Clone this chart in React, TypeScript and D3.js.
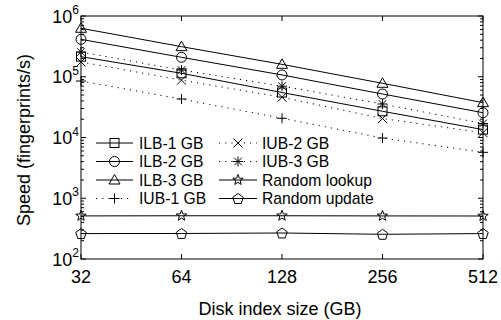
import React from "react";
import * as d3 from "d3";

const sizes = [32, 64, 128, 256, 512];
const ilb1 = [214000, 114000, 55000, 27000, 13500];
const ilb2 = [413000, 209000, 107000, 52000, 25600];
const ilb3 = [628000, 313000, 160000, 78000, 37500];
const iub1 = [85000, 43000, 20700, 9800, 5700];
const iub2 = [175000, 88000, 46000, 20500, 12000];
const iub3 = [255000, 129000, 70000, 35600, 17000];
const randomLookup = [512, 515, 515, 512, 510];
const randomUpdate = [262, 263, 268, 255, 262];
const yTickExps = [2, 3, 4, 5, 6];
const seriesLabels = [
  "ILB-1 GB", "ILB-2 GB", "ILB-3 GB", "IUB-1 GB",
  "IUB-2 GB", "IUB-3 GB", "Random lookup", "Random update",
];

type Mk = "square" | "circle" | "triangle" | "plus" | "x" | "asterisk" | "star" | "pentagon";

const series: { label: string; values: number[]; marker: Mk; dotted: boolean }[] = [
  { label: seriesLabels[0], values: ilb1, marker: "square", dotted: false },
  { label: seriesLabels[1], values: ilb2, marker: "circle", dotted: false },
  { label: seriesLabels[2], values: ilb3, marker: "triangle", dotted: false },
  { label: seriesLabels[3], values: iub1, marker: "plus", dotted: true },
  { label: seriesLabels[4], values: iub2, marker: "x", dotted: true },
  { label: seriesLabels[5], values: iub3, marker: "asterisk", dotted: true },
  { label: seriesLabels[6], values: randomLookup, marker: "star", dotted: false },
  { label: seriesLabels[7], values: randomUpdate, marker: "pentagon", dotted: false },
];

const W = 501, H = 320;
const L = 81, R = 483, T = 16, B = 259;
const FONT = "'Liberation Sans', Arial, Helvetica, sans-serif";

function marker(type: Mk, cx: number, cy: number, key?: string) {
  const common = { fill: "none", stroke: "#000", strokeWidth: 1 };
  switch (type) {
    case "square":
      return <rect key={key} x={cx - 4.5} y={cy - 4.5} width={9} height={9} {...common} />;
    case "circle":
      return <circle key={key} cx={cx} cy={cy} r={5} {...common} />;
    case "triangle":
      return <path key={key} d={`M${cx},${cy - 5.5}L${cx + 5.5},${cy + 4}L${cx - 5.5},${cy + 4}Z`} {...common} />;
    case "plus":
      return <path key={key} d={`M${cx - 5},${cy}H${cx + 5}M${cx},${cy - 5}V${cy + 5}`} {...common} />;
    case "x":
      return <path key={key} d={`M${cx - 4.5},${cy - 4.5}L${cx + 4.5},${cy + 4.5}M${cx - 4.5},${cy + 4.5}L${cx + 4.5},${cy - 4.5}`} {...common} />;
    case "asterisk":
      return <path key={key} d={`M${cx - 5},${cy}H${cx + 5}M${cx},${cy - 5}V${cy + 5}M${cx - 3.8},${cy - 3.8}L${cx + 3.8},${cy + 3.8}M${cx - 3.8},${cy + 3.8}L${cx + 3.8},${cy - 3.8}`} {...common} />;
    case "star": {
      const pts: string[] = [];
      for (let i = 0; i < 10; i++) {
        const r = i % 2 === 0 ? 5.5 : 2.3;
        const a = -Math.PI / 2 + (i * Math.PI) / 5;
        pts.push(`${cx + r * Math.cos(a)},${cy + r * Math.sin(a)}`);
      }
      return <polygon key={key} points={pts.join(" ")} {...common} />;
    }
    case "pentagon": {
      const pts: string[] = [];
      for (let i = 0; i < 5; i++) {
        const a = -Math.PI / 2 + (i * 2 * Math.PI) / 5;
        pts.push(`${cx + 5.5 * Math.cos(a)},${cy + 0.5 + 5.5 * Math.sin(a)}`);
      }
      return <polygon key={key} points={pts.join(" ")} {...common} />;
    }
  }
}

export default function App() {
  const x = d3.scaleLog().base(2).domain([32, 512]).range([L, R]);
  const y = d3.scaleLog().domain([100, 1e6]).range([B, T]);
  const line = d3
    .line<number>()
    .x((_, i) => x(sizes[i]))
    .y((d) => y(d));

  const minor: number[] = [];
  for (let e = 2; e < 6; e++) for (let m = 2; m <= 9; m++) minor.push(m * Math.pow(10, e));

  const legendRows = [143, 161.5, 180, 198.5];
  const legendCols = [
    { x1: 96, x2: 133, tx: 139 },
    { x1: 219, x2: 257, tx: 262 },
  ];

  return (
    <svg width={W} height={H} style={{ position: "absolute", left: 0, top: 0, background: "#fff" }} fontFamily={FONT}>
      <rect x={0} y={0} width={W} height={H} fill="#fff" />
      {/* minor y ticks */}
      {minor.map((v) => (
        <g key={"m" + v}>
          <line x1={L} x2={L + 3} y1={y(v)} y2={y(v)} stroke="#000" />
          <line x1={R} x2={R - 3} y1={y(v)} y2={y(v)} stroke="#000" />
        </g>
      ))}
      {/* major y ticks */}
      {yTickExps.map((e) => {
        const v = Math.pow(10, e);
        return (
          <g key={"y" + e}>
            <line x1={L} x2={L + 5} y1={y(v)} y2={y(v)} stroke="#000" />
            <line x1={R} x2={R - 5} y1={y(v)} y2={y(v)} stroke="#000" />
            <text x={79} y={y(v) + 6.5} textAnchor="end" fontSize={18}>
              10<tspan dy={-8.5} fontSize={12}>{e}</tspan>
            </text>
          </g>
        );
      })}
      {/* x ticks */}
      {sizes.map((s) => (
        <g key={"x" + s}>
          <line x1={x(s)} x2={x(s)} y1={B} y2={B - 5} stroke="#000" />
          <line x1={x(s)} x2={x(s)} y1={T} y2={T + 5} stroke="#000" />
          <text x={x(s)} y={283} textAnchor="middle" fontSize={18}>{s}</text>
        </g>
      ))}
      <rect x={L} y={T} width={R - L} height={B - T} fill="none" stroke="#000" strokeWidth={1} />
      {/* series */}
      {series.map((s, si) => (
        <g key={"s" + si}>
          <path d={line(s.values) || ""} fill="none" stroke="#000" strokeWidth={1}
            strokeDasharray={s.dotted ? "1.2,5" : undefined} />
          {s.values.map((v, i) => marker(s.marker, x(sizes[i]), y(v), `${si}-${i}`))}
        </g>
      ))}
      {/* legend */}
      {series.map((s, si) => {
        const col = legendCols[Math.floor(si / 4)];
        const ry = legendRows[si % 4];
        return (
          <g key={"l" + si}>
            <line x1={col.x1} x2={col.x2} y1={ry} y2={ry} stroke="#000" strokeWidth={1}
              strokeDasharray={s.dotted ? "1.2,5" : undefined} />
            {marker(s.marker, (col.x1 + col.x2) / 2, ry)}
            <text x={col.tx} y={ry + 5.5} fontSize={15.7}>{s.label}</text>
          </g>
        );
      })}
      {/* axis titles */}
      <text x={280} y={315} textAnchor="middle" fontSize={18}>Disk index size (GB)</text>
      <text transform="translate(29.5,140) rotate(-90)" textAnchor="middle" fontSize={18}>Speed (fingerprints/s)</text>
    </svg>
  );
}
